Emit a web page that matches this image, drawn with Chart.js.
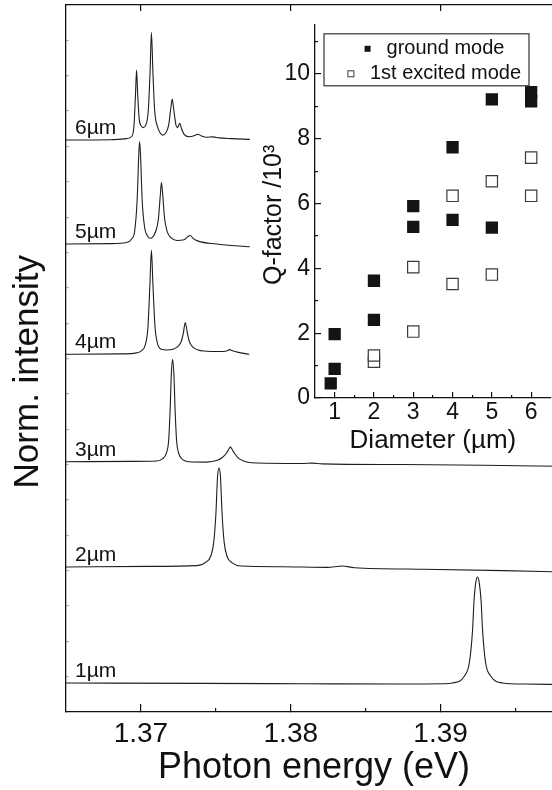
<!DOCTYPE html>
<html lang="en">
<head>
<meta charset="UTF-8">
<title>Microdisk spectra and Q-factor</title>
<script src="https://cdn.jsdelivr.net/npm/chart.js"></script>
<style>
  html, body { margin: 0; padding: 0; background: #fff; overflow: hidden; }
  #wrap { position: relative; width: 552px; height: 790px; overflow: hidden; }
  #spectra { position: absolute; left: 0; top: 0; }
  #qfactor { position: absolute; left: 240px; top: 0; }
</style>
</head>
<body>
<div id="wrap">
  <canvas id="spectra" width="562" height="790"></canvas>
  <canvas id="qfactor" width="320" height="470"></canvas>
</div>
<script>
// ---- main panel: PL spectra, [photon energy eV, norm. intensity (offset)] ----
const diameters = ['1µm', '2µm', '3µm', '4µm', '5µm', '6µm'];

const spec1um = [[1.36500,0.410],[1.37402,0.405],[1.38075,0.400],[1.38748,0.395],[1.39017,0.400],[1.39078,0.410],
  [1.39159,0.510],[1.39192,0.700],[1.39213,1.155],[1.39223,1.578],[1.39236,1.850],[1.39246,1.910],[1.39256,1.850],
  [1.39270,1.578],[1.39280,1.155],[1.39300,0.700],[1.39334,0.510],[1.39415,0.410],[1.39556,0.395],[1.39810,0.390]];

const spec2um = [[1.36500,2.050],[1.37065,2.060],[1.37373,2.070],[1.37434,2.120],[1.37467,2.210],[1.37487,2.420],
  [1.37501,2.830],[1.37511,3.320],[1.37521,3.450],[1.37531,3.320],[1.37541,2.830],[1.37555,2.410],[1.37575,2.200],
  [1.37609,2.110],[1.37669,2.065],[1.37940,2.055],[1.38243,2.045],[1.38344,2.065],[1.38425,2.040],[1.38883,2.020],
  [1.39421,2.000],[1.39810,1.980]];

const spec3um = [[1.36500,3.540],[1.36931,3.545],[1.37104,3.550],[1.37144,3.580],[1.37171,3.670],[1.37185,3.840],
  [1.37195,4.280],[1.37203,4.780],[1.37211,4.990],[1.37220,4.780],[1.37228,4.280],[1.37238,3.840],[1.37252,3.660],
  [1.37279,3.570],[1.37319,3.540],[1.37436,3.535],[1.37510,3.560],[1.37543,3.600],[1.37570,3.660],[1.37587,3.720],
  [1.37597,3.750],[1.37607,3.720],[1.37624,3.660],[1.37651,3.590],[1.37685,3.550],[1.37739,3.525],[1.38075,3.515],
  [1.38142,3.520],[1.38210,3.510],[1.38748,3.500],[1.39287,3.490],[1.39810,3.475]];

const spec4um = [[1.36500,5.060],[1.36863,5.065],[1.36971,5.080],[1.37005,5.110],[1.37030,5.200],[1.37047,5.450],
  [1.37060,6.050],[1.37070,6.530],[1.37080,6.050],[1.37094,5.450],[1.37111,5.210],[1.37137,5.130],[1.37173,5.120],
  [1.37213,5.130],[1.37247,5.170],[1.37269,5.240],[1.37283,5.360],[1.37296,5.510],[1.37310,5.360],[1.37323,5.240],
  [1.37345,5.165],[1.37382,5.120],[1.37469,5.100],[1.37550,5.100],[1.37577,5.110],[1.37592,5.125],[1.37611,5.110],
  [1.37644,5.090],[1.37723,5.060]];

const spec5um = [[1.36500,6.620],[1.36796,6.625],[1.36904,6.640],[1.36938,6.690],[1.36958,6.800],[1.36975,7.250],
  [1.36985,7.850],[1.36991,8.070],[1.36998,7.850],[1.37008,7.250],[1.37025,6.850],[1.37045,6.730],[1.37062,6.700],
  [1.37079,6.720],[1.37099,6.800],[1.37117,6.980],[1.37129,7.300],[1.37137,7.490],[1.37146,7.300],[1.37158,6.980],
  [1.37176,6.790],[1.37200,6.710],[1.37240,6.670],[1.37288,6.680],[1.37311,6.720],[1.37330,6.740],[1.37348,6.700],
  [1.37382,6.660],[1.37503,6.620],[1.37727,6.580]];

const spec6um = [[1.36500,8.090],[1.36796,8.095],[1.36904,8.110],[1.36938,8.140],[1.36954,8.300],[1.36964,8.750],
  [1.36971,9.080],[1.36978,8.750],[1.36988,8.400],[1.37001,8.290],[1.37016,8.265],[1.37032,8.300],[1.37049,8.500],
  [1.37061,9.050],[1.37070,9.610],[1.37080,9.050],[1.37092,8.500],[1.37109,8.290],[1.37126,8.200],[1.37144,8.160],
  [1.37166,8.190],[1.37185,8.300],[1.37200,8.550],[1.37209,8.670],[1.37219,8.520],[1.37234,8.300],[1.37244,8.265],
  [1.37259,8.327],[1.37271,8.250],[1.37288,8.170],[1.37321,8.137],[1.37355,8.150],[1.37380,8.171],[1.37402,8.150],
  [1.37436,8.130],[1.37481,8.135],[1.37523,8.120],[1.37604,8.110],[1.37727,8.100]];

const spectra = [spec1um, spec2um, spec3um, spec4um, spec5um, spec6um];

const energyTicks = [1.37, 1.38, 1.39];
const energyTickLabels = ['1.37', '1.38', '1.39'];
const energyMinorTicks = [1.375, 1.385, 1.395];

// ---- inset: Q-factor (x10^3) vs diameter (µm) ----
const groundDiameter = [0.9, 1, 1, 2, 2, 3, 3, 4, 4, 5, 5, 6, 6];
const groundQ        = [0.45, 0.90, 1.97, 2.41, 3.62, 5.28, 5.92, 5.50, 7.74, 5.26, 9.22, 9.44, 9.16];
const excitedDiameter = [2, 2, 3, 3, 4, 4, 5, 5, 6, 6];
const excitedQ        = [1.12, 1.31, 2.05, 4.04, 3.52, 6.24, 3.81, 6.69, 6.24, 7.42];

const diameterTicks = [1, 2, 3, 4, 5, 6];
const diameterTickLabels = ['1', '2', '3', '4', '5', '6'];
const diameterMinorTicks = [1.5, 2.5, 3.5, 4.5, 5.5];
const qTicks = [0, 2, 4, 6, 8, 10];
const qTickLabels = ['0', '2', '4', '6', '8', '10'];
const qMinorTicks = [1, 3, 5, 7, 9, 11];

const FONT = "'Liberation Sans', Arial, Helvetica, sans-serif";
const INK = '#111';
Chart.defaults.font.family = FONT;
Chart.defaults.color = INK;

// force the size of an axis box so the plot area lands where the figure has it
function fixSize(w, h) {
  return function (scale) {
    if (w !== undefined) scale.width = w;
    if (h !== undefined) scale.height = h;
  };
}
function useTicks(values) {
  return function (scale) {
    scale.ticks = values.map(v => ({ value: v }));
  };
}
function labelsFrom(list) {
  return function (value, index) { return list[index]; };
}
// ticks only, drawn inward (negative length)
function tickGrid(len, color) {
  return { drawOnChartArea: false, tickLength: len, color: color || INK, lineWidth: 1.2 };
}

const traceLabels = {
  id: 'traceLabels',
  afterDatasetsDraw(chart) {
    const { ctx, chartArea, scales } = chart;
    ctx.save();
    ctx.font = '21px ' + FONT;
    ctx.fillStyle = INK;
    ctx.textBaseline = 'alphabetic';
    chart.data.datasets.forEach(ds => {
      const y = scales.y.getPixelForValue(ds.data[0].y);
      ctx.fillText(ds.label, chartArea.left + 9, y - 6);
    });
    ctx.restore();
  }
};

new Chart(document.getElementById('spectra'), {
  type: 'line',
  data: {
    datasets: spectra.map((s, i) => ({
      label: diameters[i],
      data: s.map(([e, v]) => ({ x: e, y: v })),
      borderColor: '#1e1e1e',
      borderWidth: 1.1,
      pointRadius: 0,
      cubicInterpolationMode: 'monotone'
    }))
  },
  options: {
    responsive: false,
    animation: false,
    layout: { padding: 0 },
    scales: {
      x: {
        type: 'linear', position: 'bottom', weight: 1,
        min: 1.365, max: 1.3981,
        afterBuildTicks: useTicks(energyTicks),
        afterFit: fixSize(undefined, 78),
        border: { display: true, color: INK, width: 1.3 },
        grid: tickGrid(-8),
        ticks: { padding: 13, color: INK, font: { size: 28 }, maxRotation: 0, autoSkip: false,
                 callback: labelsFrom(energyTickLabels) },
        title: { display: true, text: 'Photon energy (eV)', color: INK, font: { size: 36 }, padding: { top: 0, bottom: 0 } }
      },
      xMinor: {
        type: 'linear', position: 'bottom', weight: 0,
        min: 1.365, max: 1.3981,
        afterBuildTicks: useTicks(energyMinorTicks),
        afterFit: fixSize(undefined, 0),
        border: { display: false },
        grid: tickGrid(-4),
        ticks: { display: false }
      },
      xTop: {
        type: 'linear', position: 'top',
        min: 1.365, max: 1.3981,
        afterBuildTicks: useTicks(energyTicks),
        afterFit: fixSize(undefined, 5),
        border: { display: true, color: INK, width: 1.3 },
        grid: tickGrid(-6),
        ticks: { display: false }
      },
      y: {
        type: 'linear', position: 'left',
        min: 0, max: 10,
        afterFit: fixSize(66, undefined),
        border: { display: true, color: INK, width: 1.3 },
        grid: tickGrid(-3, '#b8b8b8'),
        ticks: { display: false, stepSize: 0.5 },
        // trailing spaces nudge the rotated title down, as in the figure
        title: { display: true, text: 'Norm. intensity\u00a0\u00a0\u2009', color: INK, font: { size: 35 }, padding: { top: 7 } }
      }
    },
    plugins: { legend: { display: false }, tooltip: { enabled: false } }
  },
  plugins: [traceLabels]
});

const boxedLegend = {
  id: 'boxedLegend',
  afterDraw(chart) {
    const { ctx, chartArea } = chart;
    const left = chartArea.left + 9, top = chartArea.top + 9, w = 205, h = 52;
    ctx.save();
    ctx.strokeStyle = '#333';
    ctx.lineWidth = 1.2;
    ctx.strokeRect(left, top, w, h);
    ctx.font = '20px ' + FONT;
    ctx.textBaseline = 'middle';
    chart.data.datasets.forEach((ds, i) => {
      const tw = ctx.measureText(ds.label).width;
      const x0 = left + w / 2 + 8 - (6 + 16 + tw) / 2;
      const cy = top + 15 + i * 25;
      if (ds.backgroundColor === '#fff') {
        ctx.fillStyle = '#fff';
        ctx.fillRect(x0, cy - 3, 6, 6);
        ctx.strokeStyle = ds.borderColor;
        ctx.lineWidth = 1;
        ctx.strokeRect(x0, cy - 3, 6, 6);
      } else {
        ctx.fillStyle = ds.backgroundColor;
        ctx.fillRect(x0, cy - 3, 6, 6);
      }
      ctx.fillStyle = INK;
      ctx.fillText(ds.label, x0 + 22, cy);
    });
    ctx.restore();
  }
};

new Chart(document.getElementById('qfactor'), {
  type: 'scatter',
  data: {
    datasets: [
      {
        label: 'ground mode',
        data: groundDiameter.map((d, i) => ({ x: d, y: groundQ[i] })),
        pointStyle: 'rect', pointRadius: 8.7,
        backgroundColor: '#141414', borderColor: '#141414', borderWidth: 0
      },
      {
        label: '1st excited mode',
        data: excitedDiameter.map((d, i) => ({ x: d, y: excitedQ[i] })),
        pointStyle: 'rect', pointRadius: 8,
        backgroundColor: '#fff', borderColor: '#3a3a3a', borderWidth: 1.2
      }
    ]
  },
  options: {
    responsive: false,
    animation: false,
    layout: { padding: { top: 5, right: 4, left: 0, bottom: 0 } },
    scales: {
      x: {
        type: 'linear', position: 'bottom', weight: 1,
        min: 0.5, max: 6.5,
        afterBuildTicks: useTicks(diameterTicks),
        afterFit: fixSize(undefined, 72),
        border: { display: true, color: INK, width: 1.3 },
        grid: tickGrid(-6),
        ticks: { padding: 6.7, color: INK, font: { size: 23 }, maxRotation: 0, autoSkip: false,
                 callback: labelsFrom(diameterTickLabels) },
        title: { display: true, text: 'Diameter (µm)', color: INK, font: { size: 26 }, padding: { top: 0, bottom: 14 } }
      },
      xMinor: {
        type: 'linear', position: 'bottom', weight: 0,
        min: 0.5, max: 6.5,
        afterBuildTicks: useTicks(diameterMinorTicks),
        afterFit: fixSize(undefined, 0),
        border: { display: false },
        grid: tickGrid(-3),
        ticks: { display: false }
      },
      y: {
        type: 'linear', position: 'left', weight: 1,
        min: 0, max: 11.52,
        afterBuildTicks: useTicks(qTicks),
        afterFit: fixSize(75, undefined),
        border: { display: true, color: INK, width: 1.3 },
        grid: tickGrid(-6),
        ticks: { padding: 11, color: INK, font: { size: 23 }, autoSkip: false,
                 callback: labelsFrom(qTickLabels) },
        title: { display: true, text: 'Q-factor /10³\u00a0', color: INK, font: { size: 25 }, padding: { top: 19 } }
      },
      yMinor: {
        type: 'linear', position: 'left', weight: 0,
        min: 0, max: 11.52,
        afterBuildTicks: useTicks(qMinorTicks),
        afterFit: fixSize(0, undefined),
        border: { display: false },
        grid: tickGrid(-3),
        ticks: { display: false }
      }
    },
    plugins: { legend: { display: false }, tooltip: { enabled: false } }
  },
  plugins: [boxedLegend]
});
</script>
</body>
</html>
